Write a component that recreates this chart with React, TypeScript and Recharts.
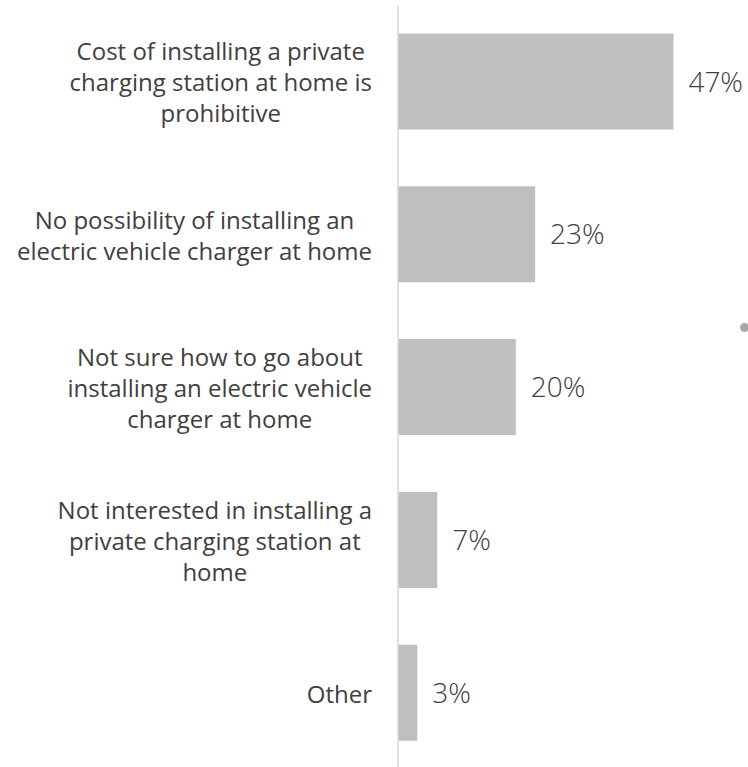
import React from 'react';
import { BarChart, Bar, XAxis, YAxis, LabelList } from 'recharts';

// survey answers, one per bar, top to bottom (line breaks as in the source)
const categories = [
    'Cost of installing a private\ncharging station at home is\nprohibitive',
    'No possibility of installing an\nelectric vehicle charger at home',
    'Not sure how to go about\ninstalling an electric vehicle\ncharger at home',
    'Not interested in installing a\nprivate charging station at\nhome',
    'Other',
];
const shares = [47, 23.4, 20.1, 6.7, 3.3];

const TEXT = '#404040';
const FONT = '"Open Sans", sans-serif';

const chartData = categories.map((name, i) => ({ name, share: shares[i] }));

// wrapped label: lines centred on each other, block pushed against the axis
function CategoryTick(props: any) {
    const { x, y, payload } = props;
    const boxH = 150;
    return (
        <foreignObject x={0} y={y - boxH / 2} width={x} height={boxH}>
            <div
                style={{
                    height: boxH,
                    display: 'flex',
                    alignItems: 'center',
                    justifyContent: 'flex-end',
                    fontFamily: FONT,
                    fontSize: 24,
                    lineHeight: '31px',
                    color: TEXT,
                }}
            >
                <div style={{ textAlign: 'center', whiteSpace: 'pre' }}>{payload.value}</div>
            </div>
        </foreignObject>
    );
}

export default function App() {
    return (
        <div style={{ position: 'absolute', left: 0, top: 0, width: 748, height: 767, overflow: 'hidden', background: '#fff' }}>
            <BarChart
                layout="vertical"
                width={748}
                height={775}
                data={chartData}
                margin={{ top: 5.6, right: 57, bottom: 5.6, left: 0 }}
            >
                <XAxis type="number" domain={[0, 50]} hide />
                <YAxis
                    type="category"
                    dataKey="name"
                    width={398}
                    axisLine={{ stroke: '#d9d9d9', strokeWidth: 1.5 }}
                    tickLine={false}
                    tickMargin={20}
                    interval={0}
                    tick={<CategoryTick />}
                />
                <Bar dataKey="share" fill="#bfbfbf" barSize={96} isAnimationActive={false}>
                    <LabelList
                        dataKey="share"
                        position="right"
                        offset={15}
                        formatter={(v: any) => `${Math.round(v)}%`}
                        style={{ fontFamily: FONT, fontSize: 28, fontWeight: 300, fill: TEXT }}
                    />
                </Bar>
            </BarChart>
            <div
                style={{
                    position: 'absolute',
                    left: 740,
                    top: 323,
                    width: 9,
                    height: 9,
                    borderRadius: '50%',
                    background: '#a6a6a6',
                }}
            />
        </div>
    );
}
